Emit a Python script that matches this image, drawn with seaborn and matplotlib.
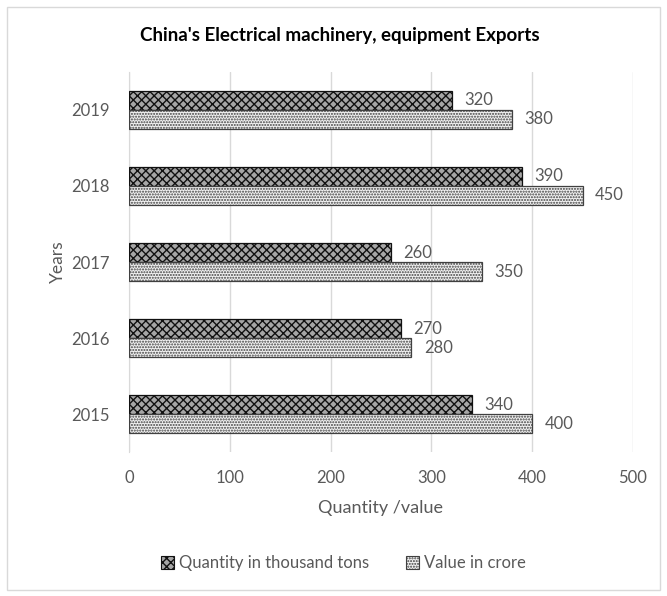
import pandas as pd
import seaborn as sns
import matplotlib.pyplot as plt
from matplotlib.patches import Patch, Rectangle

# data
years = ['2019', '2018', '2017', '2016', '2015']
quantity = [320, 390, 260, 270, 340]
value = [380, 450, 350, 280, 400]
series = ['Quantity in thousand tons', 'Value in crore']

df = pd.DataFrame({
    'Year': years * 2,
    'Amount': quantity + value,
    'Series': [series[0]] * len(years) + [series[1]] * len(years),
})

sns.set_style('white')
plt.rcParams['font.family'] = ['Lato', 'DejaVu Sans']

grey = '#595959'
hatches = ['xxxx', '......']
faces = ['#a6a6a6', '#f2f2f2']
edges = ['#111111', '#404040']

fig = plt.figure(figsize=(6.67, 5.96), dpi=100)
ax = fig.add_axes([0.1934, 0.2416, 0.7556, 0.6376])

sns.barplot(data=df, x='Amount', y='Year', hue='Series', order=years,
            hue_order=series, orient='h', width=0.5,
            palette=faces, legend=False, ax=ax, zorder=3)

for cont, h, fc, ec in zip(ax.containers, hatches, faces, edges):
    for bar in cont:
        bar.set_hatch(h)
        bar.set_facecolor(fc)
        bar.set_edgecolor(ec)
        bar.set_linewidth(0.9)
    ax.bar_label(cont, padding=9, color=grey, fontsize=12)

ax.set_xlim(0, 500)
ax.set_xticks(range(0, 501, 100))
ax.grid(axis='x', color='#d9d9d9', linewidth=1, zorder=0)
ax.grid(axis='y', visible=False)
for s in ['top', 'right', 'bottom']:
    ax.spines[s].set_visible(False)
ax.spines['left'].set_color('#d9d9d9')
ax.tick_params(axis='both', length=0, colors=grey, labelsize=12)
ax.tick_params(axis='y', pad=14)
ax.tick_params(axis='x', pad=13)
ax.set_xlabel('Quantity /value', color=grey, fontsize=13, labelpad=10)
ax.set_ylabel('Years', color=grey, fontsize=12.5, labelpad=4)

fig.text(0.51, 0.941, "China's Electrical machinery, equipment Exports",
         ha='center', va='center', fontsize=13.5, fontweight='bold', color='black')

handles = [Patch(facecolor=fc, edgecolor=ec, hatch=h, linewidth=0.8)
           for h, fc, ec in zip(hatches, faces, edges)]
fig.legend(handles, series, loc='center', bbox_to_anchor=(0.515, 0.055),
           ncol=2, frameon=False, fontsize=12, labelcolor=grey,
           handlelength=0.8, handleheight=0.8, handletextpad=0.3, columnspacing=2.2)

fig.patches.append(Rectangle((0.011, 0.01), 0.979, 0.978, transform=fig.transFigure,
                             fill=False, edgecolor='#d9d9d9', linewidth=1))

fig.savefig('out.png', dpi=100)
